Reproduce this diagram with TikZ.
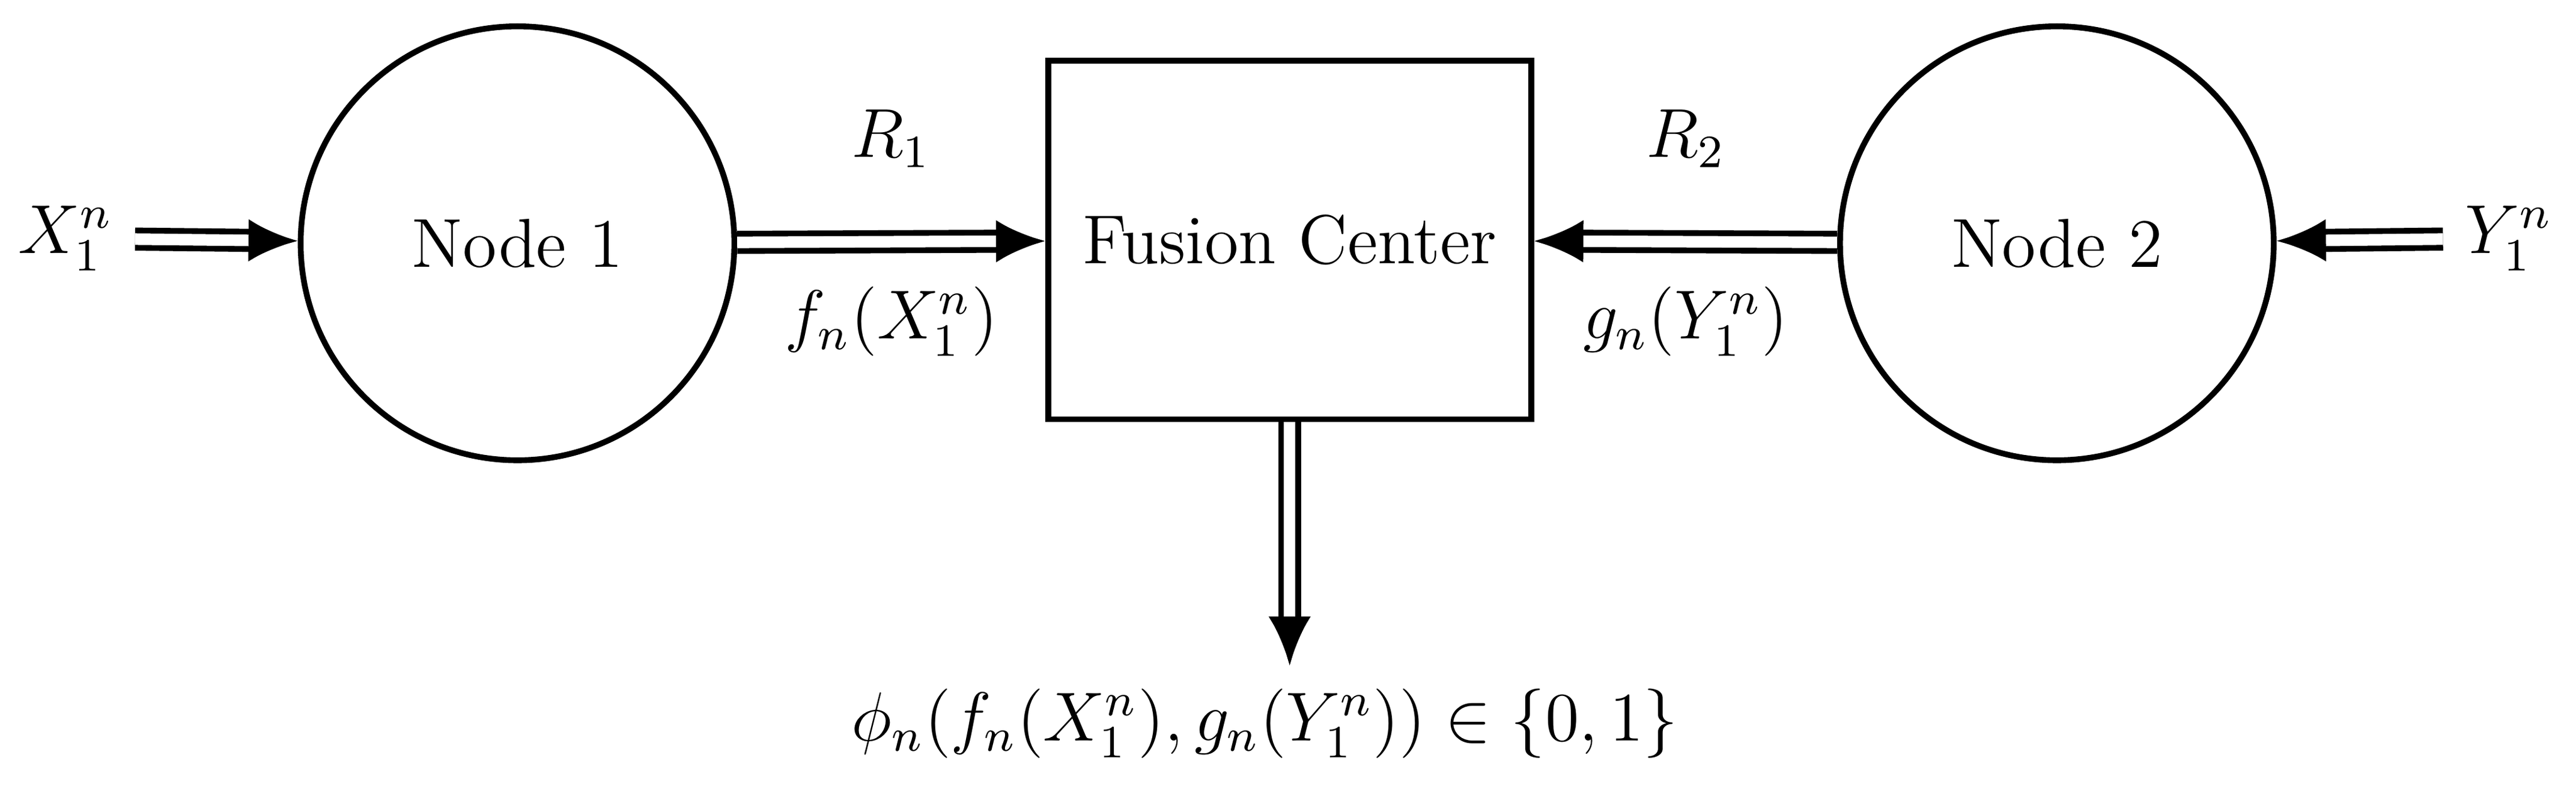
\documentclass[tikz,border=0pt]{standalone}
\usepackage{amsmath,amssymb}
\usetikzlibrary{arrows.meta, positioning}

\begin{document}
\begin{tikzpicture}[line width=1pt, >={Latex[length=3mm,width=2.6mm]},
        dbl/.style={double, double distance=2pt, ->},
        sensor/.style={draw, circle, minimum size=2.64cm, font=\large},
        center/.style={draw, rectangle, minimum width=2.94cm, minimum height=2.18cm, font=\large}]
        \useasboundingbox (0,0) rectangle (15.68,-4.81);

        \node[sensor]   (node1)    at (3.15,-1.48)                 {Node 1};
        \node[center]   (fusion)   at (7.85,-1.46)                 {Fusion Center};
        \node[sensor]   (node2)    at (12.52,-1.48)                {Node 2};

        \node[font=\large]          (x)      at (0.40,-1.45)       {$X_1^n$};
        \node[font=\large]          (y)      at (15.27,-1.45)      {$Y_1^n$};
        \node[font=\large]          (phi)    at (7.7,-4.4)         {$\phi_n(f_n(X_1^n),g_n(Y_1^n))\in\{0,1\}$};
        \coordinate                 (out)    at (7.85,-4.05);

        \draw[dbl] (x) -- (node1);
        \draw[dbl] (node1) -- node[above=9pt, font=\large] {$R_1$} node[below=4pt, font=\large] {$f_n(X_1^n)$} (fusion);
        \draw[dbl] (node2) -- node[above=9pt, font=\large] {$R_2$} node[below=4pt, font=\large] {$g_n(Y_1^n)$} (fusion);
        \draw[dbl] (y) -- (node2);
        \draw[dbl] (fusion) -- (out);
    \end{tikzpicture}
\end{document}
